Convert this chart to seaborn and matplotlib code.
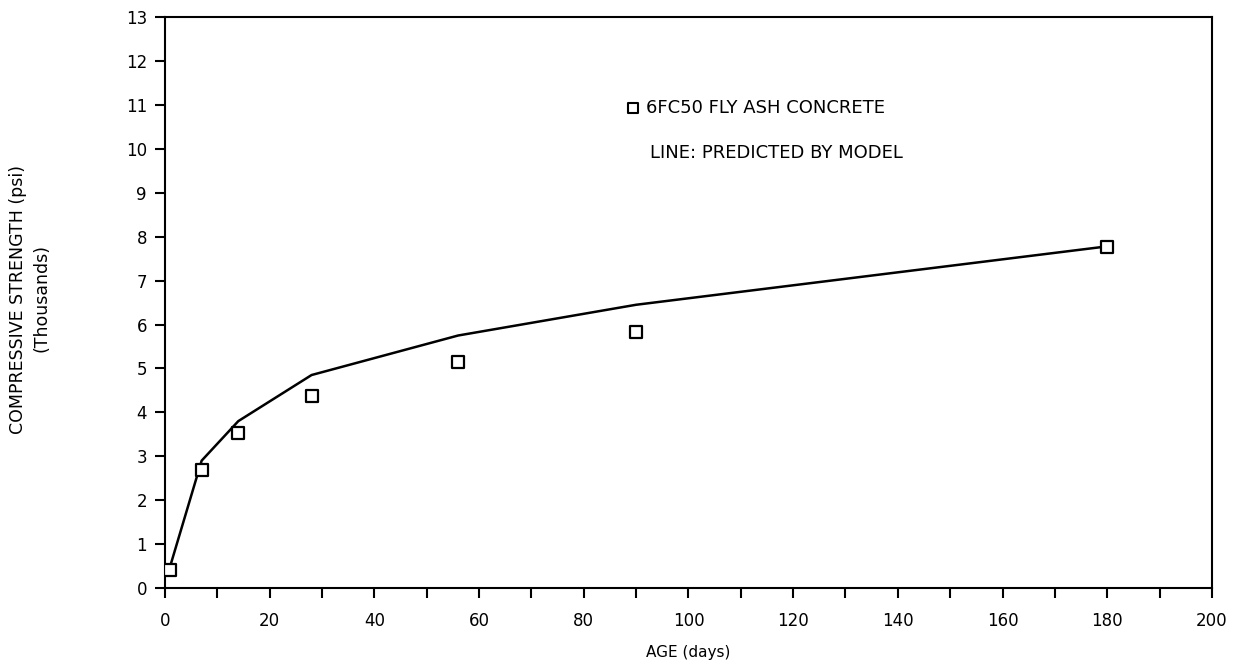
import numpy as np
import pandas as pd
import matplotlib
matplotlib.use("Agg")
import matplotlib.pyplot as plt
import seaborn as sns

# measured strengths (thousands psi)
age_days = [1, 7, 14, 28, 56, 90, 180]
strength_measured = [0.42, 2.68, 3.53, 4.38, 5.15, 5.82, 7.76]
# model prediction
strength_model = [0.50, 2.90, 3.80, 4.85, 5.75, 6.45, 7.78]

df = pd.DataFrame({"age": age_days, "measured": strength_measured, "model": strength_model})

sns.set_style("ticks")
plt.rcParams['font.family'] = ['DejaVu Sans']
plt.rcParams['text.color'] = 'black'
plt.rcParams['axes.labelcolor'] = 'black'

fig = plt.figure(figsize=(12.36, 6.7), dpi=100)
ax = fig.add_axes([0.1335, 0.1224, 0.847, 0.852])

sns.lineplot(x="age", y="model", data=df, ax=ax, color="black", linewidth=1.8)
sns.scatterplot(x="age", y="measured", data=df, ax=ax, marker="s", s=75,
                facecolor="white", edgecolor="black", linewidth=1.6, zorder=5)

ax.set_xlim(0, 200)
ax.set_ylim(0, 13)
ax.set_xticks(np.arange(0, 201, 10))
ax.set_xticklabels([str(v) if v % 20 == 0 else "" for v in range(0, 201, 10)])
ax.set_yticks(np.arange(0, 14, 1))
ax.tick_params(axis="both", direction="out", length=7, width=1.5, labelsize=12, colors="black")
ax.tick_params(axis="x", pad=10)
ax.tick_params(axis="y", pad=6)
for s in ax.spines.values():
    s.set_linewidth(1.5)
    s.set_color("black")

ax.set_xlabel("AGE (days)", fontsize=11, labelpad=11)
ax.set_ylabel("")
fig.text(18 / 1236, 1 - 300 / 670, "COMPRESSIVE STRENGTH (psi)", rotation=90,
         ha="center", va="center", fontsize=12.5)
fig.text(42 / 1236, 1 - 298 / 670, "(Thousands)", rotation=90,
         ha="center", va="center", fontsize=12.5)

# legend-like annotation
ax.scatter([89.4], [10.93], marker="s", s=55, facecolor="white", edgecolor="black",
           linewidth=1.5, zorder=5)
ax.text(91.8, 10.93, "6FC50 FLY ASH CONCRETE", fontsize=13, va="center", ha="left")
ax.text(92.6, 9.9, "LINE: PREDICTED BY MODEL", fontsize=13, va="center", ha="left")

fig.savefig("out.png", dpi=100)
